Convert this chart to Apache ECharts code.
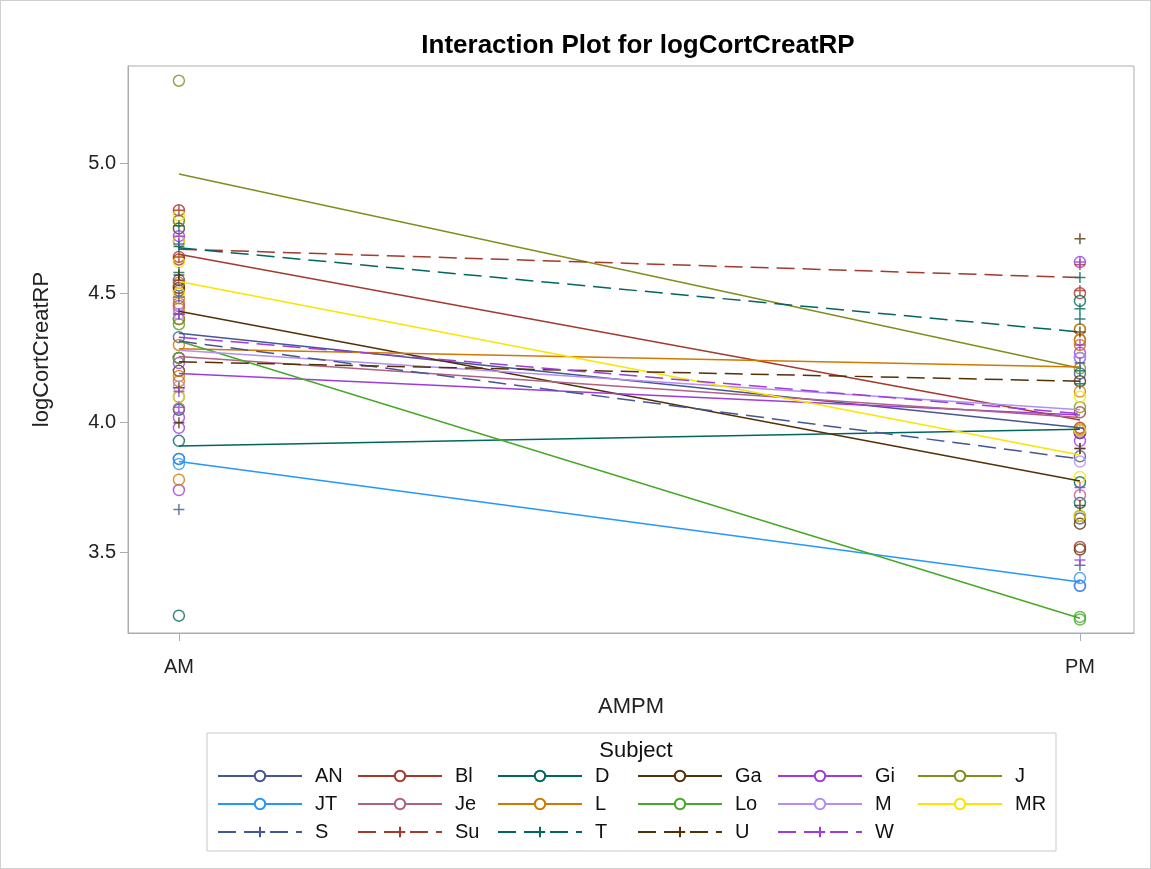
<!DOCTYPE html>
<html>
<head>
<meta charset="utf-8">
<script src="https://cdn.jsdelivr.net/npm/echarts@6/dist/echarts.min.js"></script>
<style>
  html, body { margin: 0; padding: 0; background: #fff; }
  #main { width: 1149px; height: 867px; border: 1px solid #d0d0d0; }
</style>
</head>
<body>
<div id="main"></div>
<script>
var subjects = ['AN', 'Bl', 'D', 'Ga', 'Gi', 'J', 'JT', 'Je', 'L', 'Lo', 'M', 'MR', 'S', 'Su', 'T', 'U', 'W'];
var colors = ['#445694', '#A23A2E', '#01665E', '#543005', '#9D3CDB', '#7F8E1F',
              '#2597FA', '#B26084', '#D17800', '#47A82A', '#B38EF3', '#F9E500',
              '#445694', '#A23A2E', '#01665E', '#543005', '#9D3CDB'];

// means per subject (the interaction lines)
var amMean = [4.345, 4.65, 3.91, 4.43, 4.19, 4.96, 3.85, 4.255, 4.285, 4.315, 4.28, 4.545, 4.315, 4.67, 4.675, 4.235, 4.33];
var pmMean = [3.98, 4.01, 3.975, 3.775, 4.03, 4.21, 3.385, 4.02, 4.215, 3.245, 4.05, 3.875, 3.86, 4.56, 4.35, 4.16, 4.035];

// individual observations
var amPoints = [
  [4.70, 4.55, 4.33, 4.10, 3.86, 4.53],
  [4.82, 4.64, 4.63, 4.51],
  [4.40, 4.05, 3.93, 3.255],
  [4.75, 4.52, 4.20, 4.25],
  [4.72, 4.45, 4.02, 3.98, 3.74, 4.23],
  [5.32, 4.78, 4.78],
  [3.86, 3.84],
  [4.46, 4.25, 4.055],
  [4.48, 4.44, 4.40, 4.30, 4.18, 4.16, 3.78, 4.54],
  [4.38, 4.25],
  [4.42, 4.14],
  [4.80, 4.70, 4.62, 4.10, 4.50],
  [4.69, 4.485, 4.42, 3.665],
  [4.82, 4.64, 4.55],
  [4.76, 4.68, 4.58],
  [4.57, 4.00, 4.135],
  [4.72, 4.42, 4.12, 4.06]
];
var pmPoints = [
  [4.25, 4.19, 3.96, 3.87, 3.63],
  [4.50, 4.04, 3.98, 3.52],
  [4.47, 3.97, 3.69, 3.77],
  [4.16, 3.96, 3.61, 3.51, 3.64],
  [4.62, 4.27, 3.93, 3.37, 3.96],
  [4.36, 4.21, 4.06],
  [3.40, 3.37],
  [4.32, 3.72],
  [4.36, 4.32, 4.30, 4.12, 3.975],
  [3.25, 3.24],
  [4.25, 3.85],
  [4.10, 3.79, 3.64, 3.97],
  [4.23, 3.90, 3.45],
  [4.61, 4.51],
  [4.56, 4.44, 4.40, 4.15, 4.20],
  [4.71, 4.35, 3.90, 3.68],
  [4.62, 3.75, 3.47, 4.30]
];
var xLabels = ['AM', 'PM'];
var yTicks = [3.5, 4.0, 4.5, 5.0];

var plusPath = 'path://M0,5L10,5M5,0L5,10';
var font = 'Liberation Sans, Arial, sans-serif';

var myChart = echarts.init(document.getElementById('main'));

var series = [];
subjects.forEach(function (s, i) {
  var dashed = i >= 12;
  var c = colors[i];
  series.push({
    name: s,
    type: 'line',
    data: [[0, amMean[i]], [1, pmMean[i]]],
    symbol: dashed ? plusPath : 'emptyCircle',
    showSymbol: false,
    symbolSize: 10,
    lineStyle: { color: c, width: 1.5, type: dashed ? [18, 8] : 'solid' },
    itemStyle: { color: c, borderColor: c, borderWidth: 1.5 },
    z: 3,
    silent: true
  });
  var pts = amPoints[i].map(function (v) { return [0, v]; })
    .concat(pmPoints[i].map(function (v) { return [1, v]; }));
  series.push({
    name: s,
    type: 'scatter',
    data: pts,
    symbol: dashed ? plusPath : 'circle',
    symbolSize: 11,
    itemStyle: { color: 'rgba(0,0,0,0)', borderColor: c, borderWidth: 1.5 },
    z: 2
  });
});

// legend laid out as 6 columns (SAS fills row by row)
var legends = [];
for (var col = 0; col < 6; col++) {
  var names = [];
  for (var k = col; k < subjects.length; k += 6) names.push(subjects[k]);
  legends.push({
    data: names,
    left: 211 + col * 140,
    top: 760,
    orient: 'vertical',
    itemWidth: 84,
    itemHeight: 13,
    itemGap: 8,
    selectedMode: false,
    textStyle: { fontFamily: font, fontSize: 20, lineHeight: 20, color: '#111', padding: [0, 0, 0, 8] }
  });
}

var option = {
  animation: false,
  title: [{
    text: 'Interaction Plot for logCortCreatRP',
    left: 632,
    top: 27,
    textAlign: 'center',
    textStyle: { fontFamily: font, fontSize: 26, fontWeight: 'bold', color: '#000' }
  }, {
    text: 'Subject',
    left: 630,
    top: 734,
    textAlign: 'center',
    textStyle: { fontFamily: font, fontSize: 22, fontWeight: 'normal', color: '#111' }
  }],
  grid: { left: 127, right: 16, top: 65, bottom: 235, show: true, borderColor: '#a9adb2', borderWidth: 1 },
  xAxis: {
    type: 'value',
    min: -0.0565,
    max: 1.06,
    name: 'AMPM',
    nameLocation: 'middle',
    nameGap: 63,
    nameTextStyle: { fontFamily: font, fontSize: 22, color: '#222' },
    axisLine: { show: true, onZero: false, lineStyle: { color: '#a9adb2' } },
    axisTick: { show: true, length: 8, customValues: [0, 1], lineStyle: { color: '#a9adb2' } },
    axisLabel: {
      customValues: [0, 1],
      margin: 24,
      fontFamily: font, fontSize: 20, color: '#222',
      formatter: function (v) { return xLabels[Math.round(v)]; }
    },
    splitLine: { show: false }
  },
  yAxis: {
    type: 'value',
    min: 3.188,
    max: 5.377,
    name: 'logCortCreatRP',
    nameLocation: 'middle',
    nameGap: 75,
    nameTextStyle: { fontFamily: font, fontSize: 22, color: '#222' },
    axisLine: { show: true, onZero: false, lineStyle: { color: '#a9adb2' } },
    axisTick: { show: true, length: 8, customValues: yTicks, lineStyle: { color: '#a9adb2' } },
    axisLabel: {
      customValues: yTicks,
      margin: 12,
      fontFamily: font, fontSize: 20, color: '#222',
      formatter: function (v) { return v.toFixed(1); }
    },
    splitLine: { show: false }
  },
  legend: legends,
  graphic: [{
    type: 'rect',
    shape: { x: 206, y: 732, width: 849, height: 118 },
    style: { fill: 'none', stroke: '#c8c8c8', lineWidth: 1 },
    silent: true
  }],
  series: series
};
myChart.setOption(option);
</script>
</body>
</html>
